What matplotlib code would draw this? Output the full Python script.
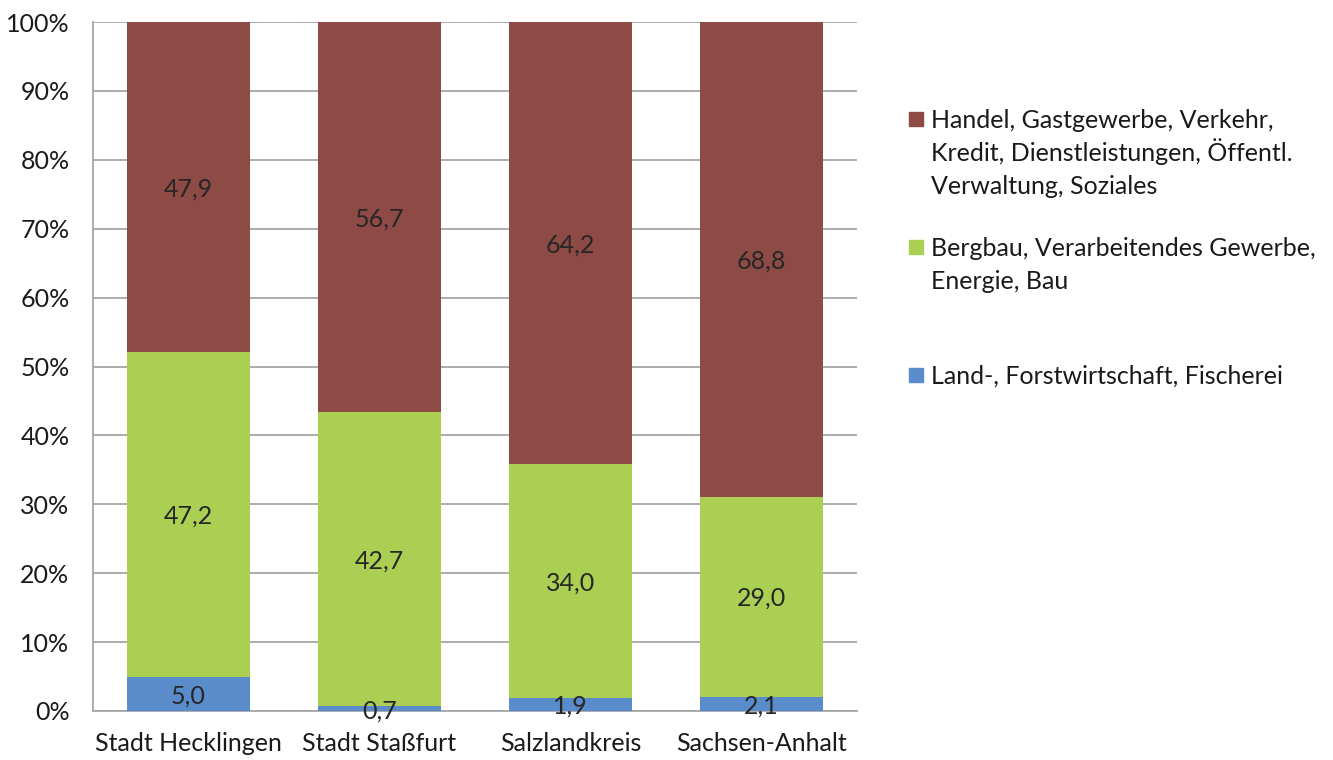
import numpy as np
import matplotlib.pyplot as plt
from matplotlib.patches import Rectangle

plt.rcParams['font.family'] = ['Lato', 'DejaVu Sans']

regions = ["Stadt Hecklingen", "Stadt Staßfurt", "Salzlandkreis", "Sachsen-Anhalt"]
land = [5.0, 0.7, 1.9, 2.1]
bergbau = [47.2, 42.7, 34.0, 29.0]
handel = [47.9, 56.7, 64.2, 68.8]

series_labels = [
    "Land-, Forstwirtschaft, Fischerei",
    "Bergbau, Verarbeitendes Gewerbe,\nEnergie, Bau",
    "Handel, Gastgewerbe, Verkehr,\nKredit, Dienstleistungen, Öffentl.\nVerwaltung, Soziales",
]
colors = ["#5A8BCA", "#ABCF52", "#8E4A44"]
yticks = [0, 10, 20, 30, 40, 50, 60, 70, 80, 90, 100]

FS = 18
W, H = 1333, 760
fig = plt.figure(figsize=(W / 100, H / 100), dpi=100)
ax = fig.add_axes([93 / W, 1 - 711 / H, (857 - 93) / W, (711 - 22) / H])

data = np.array([land, bergbau, handel])
share = data / data.sum(axis=0) * 100
x = np.arange(len(regions))
bottom = np.zeros(len(regions))
for vals, pct, col in zip(data, share, colors):
    ax.bar(x, pct, 0.64, bottom=bottom, color=col, zorder=3)
    for xi, b, p, v in zip(x, bottom, pct, vals):
        ax.text(xi, b + p / 2, f"{v:.1f}".replace(".", ","), ha="center",
                va="center_baseline", fontsize=FS, color="#262626", zorder=4)
    bottom += pct

ax.set_xlim(-0.5, 3.5)
ax.set_ylim(0, 100)
ax.set_yticks(yticks)
ax.set_yticklabels([f"{t}%" for t in yticks])
ax.set_xticks(x)
ax.set_xticklabels(regions)
ax.tick_params(length=0, labelsize=FS, labelcolor="#1a1a1a")
ax.tick_params(axis="y", pad=17)
ax.tick_params(axis="x", pad=15)
ax.grid(axis="y", color="#A6A6A6", linewidth=1.3, zorder=0)
for s in ["top", "right"]:
    ax.spines[s].set_visible(False)
for s in ["left", "bottom"]:
    ax.spines[s].set_color("#A6A6A6")
    ax.spines[s].set_linewidth(1.3)

# legend drawn by hand, entries in reverse order
first_lines = [375, 247, 119]
for lab, col, y0 in zip(series_labels, colors, first_lines):
    fig.add_artist(Rectangle((909 / W, 1 - (y0 + 7) / H), 14 / W, 14 / H,
                             transform=fig.transFigure, color=col))
    for i, line in enumerate(lab.split("\n")):
        fig.text(931 / W, 1 - (y0 + 9 + i * 33) / H, line, va="baseline",
                 ha="left", fontsize=FS, color="#1a1a1a")

fig.savefig("out.png", dpi=100)
